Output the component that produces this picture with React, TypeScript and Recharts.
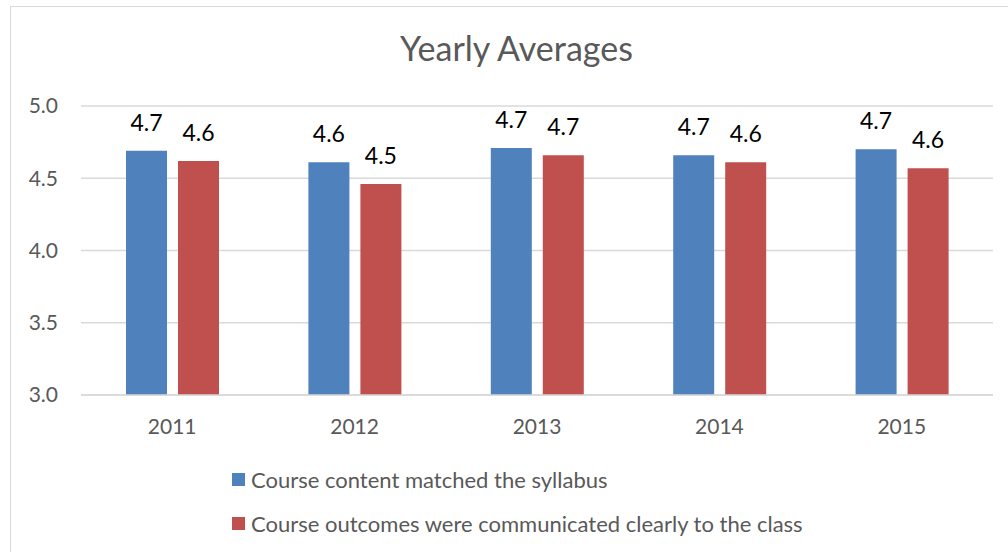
import { BarChart, Bar, XAxis, YAxis, CartesianGrid, Legend, LabelList } from 'recharts';

const years = ['2011', '2012', '2013', '2014', '2015'];
const contentMatched = [4.69, 4.61, 4.71, 4.66, 4.7];
const outcomesCommunicated = [4.62, 4.46, 4.66, 4.61, 4.57];
const yTicks = [3, 3.5, 4, 4.5, 5];

const seriesNames = {
  content: 'Course content matched the syllabus',
  outcomes: 'Course outcomes were communicated clearly to the class',
};

const data = years.map((year, i) => ({
  year,
  content: contentMatched[i],
  outcomes: outcomesCommunicated[i],
}));

const FONT = 'Lato, "Noto Sans", sans-serif';
const GREY_TEXT = '#595959';
const BLUE = '#4F81BD';
const RED = '#C0504D';

function LegendBox({ payload }: any) {
  return (
    <div style={{ fontFamily: FONT, fontSize: 22, color: GREY_TEXT }}>
      {(payload || []).map((item: any) => (
        <div key={item.dataKey} style={{ display: 'flex', alignItems: 'center', height: 44 }}>
          <span
            style={{ width: 13, height: 13, background: item.color, marginRight: 6, display: 'inline-block' }}
          />
          <span>{seriesNames[item.dataKey as keyof typeof seriesNames]}</span>
        </div>
      ))}
    </div>
  );
}

export default function App() {
  return (
    <div
      style={{
        position: 'fixed',
        left: 0,
        top: 0,
        width: 1008,
        height: 552,
        overflow: 'hidden',
        background: '#fff',
      }}
    >
      {/* chart frame, cut by the window on the right and bottom */}
      <div
        style={{
          position: 'absolute',
          left: 10,
          top: 6,
          width: 1010,
          height: 560,
          border: '1.5px solid #D9D9D9',
          boxSizing: 'border-box',
        }}
      />
      <div
        style={{
          position: 'absolute',
          left: 0,
          top: 27,
          width: 1033,
          textAlign: 'center',
          fontFamily: FONT,
          fontSize: 34,
          color: GREY_TEXT,
        }}
      >
        Yearly Averages
      </div>
      <div style={{ position: 'absolute', left: 0, top: 0 }}>
        <BarChart
          width={1008}
          height={552}
          data={data}
          margin={{ top: 106, right: 15, bottom: 117, left: 0 }}
          barSize={41}
          barGap={11}
        >
          <CartesianGrid vertical={false} stroke="#D9D9D9" strokeWidth={1.5} />
          <XAxis
            dataKey="year"
            height={40}
            axisLine={{ stroke: '#D9D9D9', strokeWidth: 1.5 }}
            tickLine={false}
            tickMargin={18}
            tick={{ fontFamily: FONT, fontSize: 21, fill: GREY_TEXT }}
          />
          <YAxis
            width={81}
            domain={[3, 5]}
            ticks={yTicks}
            allowDataOverflow
            axisLine={false}
            tickLine={false}
            tickMargin={17}
            tickFormatter={(v: number) => v.toFixed(1)}
            tick={{ fontFamily: FONT, fontSize: 21, fill: GREY_TEXT }}
          />
          <Legend
            layout="horizontal"
            verticalAlign="middle"
            align="center"
            content={<LegendBox />}
            wrapperStyle={{ left: 232, top: 457, width: 700, height: 90 }}
          />
          <Bar dataKey="content" name={seriesNames.content} fill={BLUE} isAnimationActive={false}>
            <LabelList
              dataKey="content"
              position="top"
              offset={20}
              formatter={(v: any) => Number(v).toFixed(1)}
              style={{ fontFamily: FONT, fontSize: 23, fill: '#000' }}
            />
          </Bar>
          <Bar dataKey="outcomes" name={seriesNames.outcomes} fill={RED} isAnimationActive={false}>
            <LabelList
              dataKey="outcomes"
              position="top"
              offset={20}
              formatter={(v: any) => Number(v).toFixed(1)}
              style={{ fontFamily: FONT, fontSize: 23, fill: '#000' }}
            />
          </Bar>
        </BarChart>
      </div>
    </div>
  );
}
